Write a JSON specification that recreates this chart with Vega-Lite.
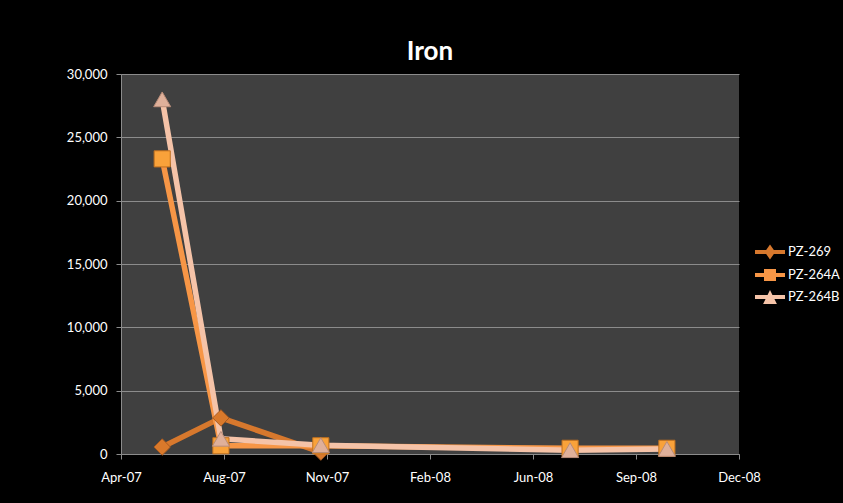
{
  "$schema": "https://vega.github.io/schema/vega-lite/v6.json",
  "width": 618,
  "height": 380,
  "autosize": {"type": "none"},
  "padding": {"left": 121, "top": 74, "right": 104, "bottom": 49},
  "background": "#000000",
  "title": {
    "text": "Iron",
    "color": "#ffffff",
    "font": "Lato",
    "fontSize": 26,
    "fontWeight": "bold",
    "anchor": "middle",
    "frame": "group",
    "offset": 3
  },
  "config": {
    "view": {"fill": "#404040", "stroke": null},
    "axis": {
      "labelColor": "#ffffff",
      "labelFont": "Lato",
      "labelFontSize": 13,
      "tickColor": "#8c8c8c",
      "tickSize": 5,
      "domainColor": "#8c8c8c",
      "domainWidth": 1,
      "gridColor": "#8c8c8c",
      "gridWidth": 1,
      "title": null
    },
    "legend": {
      "labelColor": "#ffffff",
      "labelFont": "Lato",
      "labelFontSize": 13
    }
  },
  "data": {
    "values": [
      {"series": "PZ-269", "date": "2007-06-07", "value": 550},
      {"series": "PZ-269", "date": "2007-08-03", "value": 2850},
      {"series": "PZ-269", "date": "2007-11-08", "value": 150},
      {"series": "PZ-264A", "date": "2007-06-07", "value": 23300},
      {"series": "PZ-264A", "date": "2007-08-03", "value": 650},
      {"series": "PZ-264A", "date": "2007-11-08", "value": 650},
      {"series": "PZ-264A", "date": "2008-07-07", "value": 450},
      {"series": "PZ-264A", "date": "2008-10-09", "value": 450},
      {"series": "PZ-264B", "date": "2007-06-07", "value": 28000},
      {"series": "PZ-264B", "date": "2007-08-03", "value": 1200},
      {"series": "PZ-264B", "date": "2007-11-08", "value": 700},
      {"series": "PZ-264B", "date": "2008-07-07", "value": 300},
      {"series": "PZ-264B", "date": "2008-10-09", "value": 400}
    ]
  },
  "encoding": {
    "x": {
      "field": "date",
      "type": "temporal",
      "scale": {
        "type": "utc",
        "nice": false,
        "domain": [
          {"year": 2007, "month": 4, "date": 28, "utc": true},
          {"year": 2008, "month": 12, "date": 18, "utc": true}
        ]
      },
      "axis": {
        "values": [
          {"year": 2007, "month": 4, "date": 28, "utc": true},
          {"year": 2007, "month": 8, "date": 6, "utc": true},
          {"year": 2007, "month": 11, "date": 14, "utc": true},
          {"year": 2008, "month": 2, "date": 22, "utc": true},
          {"year": 2008, "month": 6, "date": 1, "utc": true},
          {"year": 2008, "month": 9, "date": 9, "utc": true},
          {"year": 2008, "month": 12, "date": 18, "utc": true}
        ],
        "format": "%b-%y",
        "grid": false,
        "labelPadding": 12,
        "labelFlush": false,
        "labelOverlap": false
      }
    },
    "y": {
      "field": "value",
      "type": "quantitative",
      "scale": {"domain": [0, 30000], "nice": false},
      "axis": {
        "values": [0, 5000, 10000, 15000, 20000, 25000, 30000],
        "format": ",.0f",
        "grid": true,
        "labelPadding": 9
      }
    }
  },
  "layer": [
    {
      "mark": {"type": "line", "strokeWidth": 5.5, "strokeJoin": "round", "strokeCap": "round"},
      "encoding": {
        "color": {
          "field": "series",
          "type": "nominal",
          "scale": {
            "domain": ["PZ-269", "PZ-264A", "PZ-264B"],
            "range": ["#d7782d", "#f79646", "#f5c3a8"]
          },
          "legend": {
            "title": null,
            "orient": "none",
            "legendX": 634,
            "legendY": 163,
            "padding": 0,
            "rowPadding": 0,
            "labelOffset": 3,
            "symbolSize": 900,
            "symbolStrokeWidth": 0,
            "encode": {
              "symbols": {
                "update": {
                  "shape": {"signal": "datum.value === 'PZ-269' ? 'M-1,-0.13H1V0.13H-1ZM0,-0.5L0.35,0L0,0.5L-0.35,0Z' : datum.value === 'PZ-264A' ? 'M-1,-0.13H1V0.13H-1ZM-0.4,-0.4H0.4V0.4H-0.4Z' : 'M-1,-0.13H1V0.13H-1ZM0,-0.47L0.46,0.47H-0.46Z'"},
                  "fill": {"scale": "color", "field": "value"},
                  "fillOpacity": {"value": 1},
                  "strokeWidth": {"value": 0}
                }
              }
            }
          }
        }
      }
    },
    {
      "transform": [{"filter": "datum.series === 'PZ-269'"}],
      "mark": {"type": "point", "shape": "diamond", "filled": true, "size": 270, "fill": "#d9792b", "stroke": "#a85a1f", "strokeWidth": 1, "opacity": 1}
    },
    {
      "transform": [{"filter": "datum.series === 'PZ-264A'"}],
      "mark": {"type": "point", "shape": "square", "filled": true, "size": 260, "fill": "#f9a23a", "stroke": "#c0701f", "strokeWidth": 1, "opacity": 1}
    },
    {
      "transform": [{"filter": "datum.series === 'PZ-264B'"}],
      "mark": {"type": "point", "shape": "triangle-up", "filled": true, "size": 290, "fill": "#dfb09a", "stroke": "#b88c78", "strokeWidth": 1, "opacity": 1}
    }
  ]
}
